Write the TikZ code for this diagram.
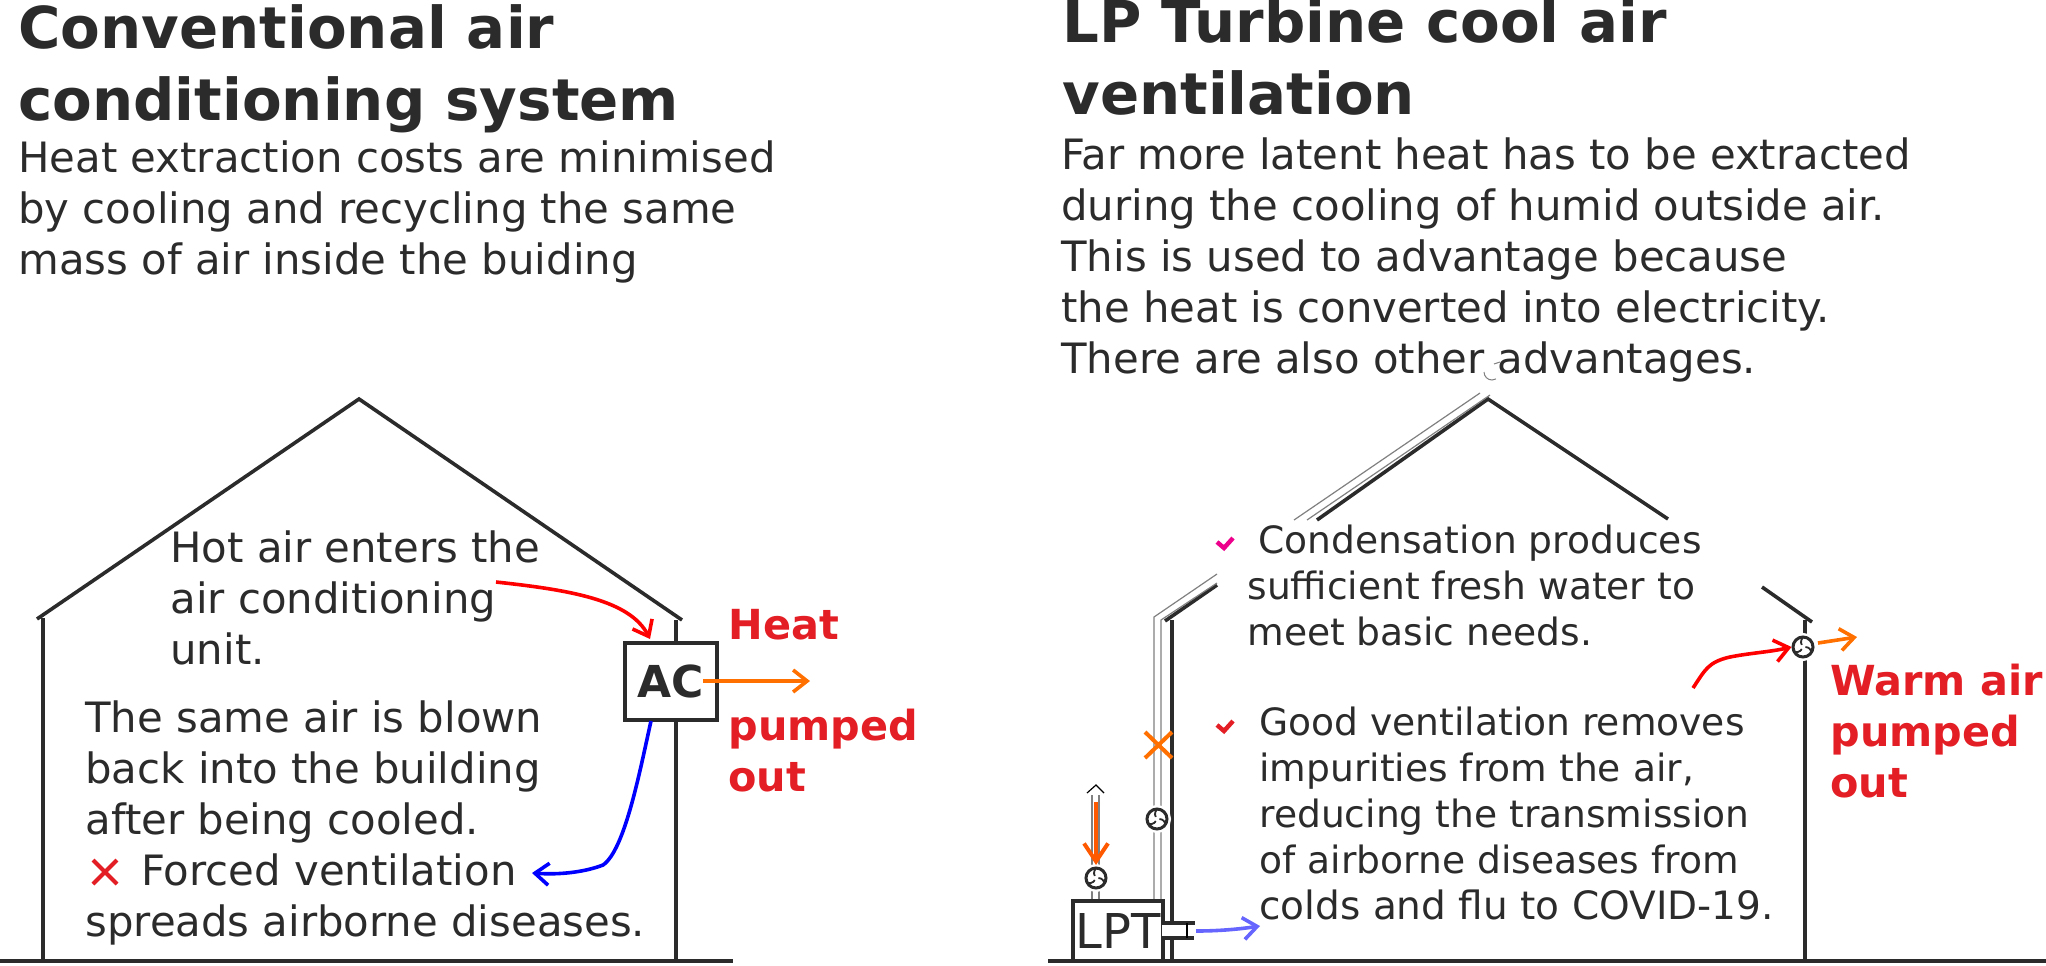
\documentclass[tikz,border=0pt]{standalone}
\usepackage{fontspec}
\setmainfont{DejaVu Sans}
\usepackage{xcolor}
\usetikzlibrary{arrows.meta,positioning,calc}
\definecolor{inkgrey}{HTML}{2B2B2B}
\definecolor{labelred}{HTML}{E31E24}
\definecolor{hotorange}{HTML}{FF7000}

\begin{document}
\begin{tikzpicture}[
        x=0.5pt, y=-0.5pt,
        heading/.style={anchor=base west, align=left, inner sep=0pt, text=inkgrey, font=\fontsize{28.9}{36}\selectfont\bfseries},
        bodytext/.style={anchor=base west, align=left, inner sep=0pt, text=inkgrey, font=\fontsize{20.9}{25.5}\selectfont},
        housetext/.style={bodytext, font=\fontsize{18.8}{22.9}\selectfont},
        redlabel/.style={anchor=base west, align=left, inner sep=0pt, text=labelred, font=\fontsize{20.7}{25.5}\selectfont\bfseries},
        wall/.style={draw=inkgrey, line width=1.8pt},
        pipe/.style={draw=gray, line width=0.6pt},
        unitbox/.style={draw=inkgrey, line width=2pt, fill=white, inner sep=0pt, text=inkgrey},
        flow/.style={-{Straight Barb[length=7pt,width=11pt,line width=1.8pt]}, line width=1.8pt},
        crossmark/.style={line width=2pt},
        tickmark/.style={line width=2.2pt},
        fan/.style={circle, draw=inkgrey, line width=1.5pt, fill=white, minimum size=10pt, inner sep=0pt,
            preaction={draw=white, line width=4pt},
            path picture={
                \foreach \turn in {0,120,240}
                    \draw[inkgrey, line width=0.9pt] ($(path picture bounding box.center)+(\turn:1.2pt)$)
                        arc[start angle=\turn+90, delta angle=-90, radius=3pt];
            }}
    ]
    \useasboundingbox (0,0) rectangle (2046,965);

    % Left title
    \node[heading] (lefttitle) at (18,120) {Conventional air\\conditioning system};
    \node[bodytext] (leftbody) at (18,274) {Heat extraction costs are minimised\\by cooling and recycling the same\\mass of air inside the buiding};

    % Right title
    \node[heading] (righttitle) at (1062,114) {LP Turbine cool air\\ventilation};
    \node[bodytext] (rightbody) at (1061,373) {Far more latent heat has to be extracted\\during the cooling of humid outside air.\\This is used to advantage because\\the heat is converted into electricity.\\There are also other advantages.};

    % Left house
    \draw[wall] (0,961) -- (733,961);
    \draw[wall] (43,961) -- (43,618);
    \draw[wall] (37,619) -- (359,399) -- (682,620);
    \draw[wall] (676,620) -- (676,961);

    % AC unit
    \node[unitbox, minimum width=46pt, minimum height=38.5pt, font=\fontsize{22}{25}\selectfont\bfseries] (ac) at (671,681) {AC};
    \node[bodytext] (hottext) at (170,664) {Hot air enters the\\air conditioning\\unit.};
    \node[bodytext] (coldtext) at (85,936) {The same air is blown\\back into the building\\after being cooled.\\\hspace{28pt}Forced ventilation\\spreads airborne diseases.};
    \node[redlabel] (heatlabel) at (728,639) {Heat};
    \node[redlabel] (pumpedlabel) at (728,791) {pumped\\out};
    \coordinate (hotstart) at (496,582);
    \coordinate (coldend) at (532,873);
    \coordinate (heatstart) at (703,681);
    \coordinate (heatend) at (810,681);
    \draw[flow, red] (hotstart) .. controls (570,590) and (630,600) .. (650,639);
    \draw[flow, blue] (651,721) .. controls (640,770) and (625,850) .. (603,865) .. controls (585,872) and (560,875) .. (coldend);
    \draw[flow, hotorange] (heatstart) -- (heatend);
    \draw[crossmark, labelred] (93,860) -- (117,884) (117,860) -- (93,884);

    % Right house
    \draw[wall] (1048,961) -- (2046,961);
    \draw[wall] (1172,961) -- (1172,620);
    \draw[wall] (1165,621) -- (1217,585);
    \draw[wall] (1317,520) -- (1488,399) -- (1668,519);
    \draw[wall] (1762,587) -- (1812,622);
    \draw[wall] (1805,620) -- (1805,961);

    % Ducts beside the wall
    \draw[pipe] (1154,900) -- (1154,617) -- (1217,574);
    \draw[pipe] (1161,900) -- (1161,620) -- (1217,583);
    \draw[pipe] (1294,520) -- (1480,393);
    \draw[pipe] (1307,520) -- (1490,395);
    \draw[pipe] (1092,900) -- (1092,795);
    \draw[pipe] (1099,900) -- (1099,795);
    \draw[pipe, black] (1087,793) -- (1096,785) -- (1104,793);

    % Turbine
    \node[unitbox, minimum width=45pt, minimum height=30pt, font=\fontsize{24}{26}\selectfont] (lpt) at (1118,931) {\raisebox{-1.5pt}{LPT}};
    \fill[white] (1162,925) rectangle (1186,936);
    \draw[wall] (1162,923) -- (1195,923);
    \draw[wall] (1162,938) -- (1194,938);
    \draw[pipe, black] (1187,923) -- (1187,938);

    % Fans
    \node[fan] (fanlow) at (1096,878) {};
    \node[fan] (fanduct) at (1157,819) {};
    \node[fan] (fanroof) at (1803,647) {};
    \draw[gray, line width=0.5pt] (1484,372) arc[start angle=180, end angle=60, radius=8] (1494,364) -- (1500,362);

    % Text inside
    \node[housetext] (condense) at (1247,645) {\hspace{5.5pt}Condensation produces\\sufficient fresh water to\\meet basic needs.};
    \node[housetext] (impure) at (1259,919) {Good ventilation removes\\impurities from the air,\\reducing the transmission\\of airborne diseases from\\\fontsize{19.5}{22.9}\selectfont colds and flu to COVID-19.};
    \node[redlabel] (warmlabel) at (1830,797) {Warm air\\pumped\\out};

    % Marks and flows
    \draw[tickmark, magenta] (1217,542) -- (1224,548) -- (1233,538);
    \draw[tickmark, labelred] (1217,725) -- (1224,731) -- (1233,721);
    \draw[crossmark, hotorange] (1145,732) -- (1172,758) (1172,732) -- (1145,758);
    \draw[-{Straight Barb[length=9pt,width=12pt,line width=2pt]}, line width=2pt, orange!70!red] (1096,802) -- (1096,865);
    \draw[flow, blue!60!white] (1196,931) .. controls (1220,931) and (1240,929) .. (1260,926);
    \draw[flow, red] (1693,688) .. controls (1705,670) and (1708,662) .. (1730,657) .. controls (1750,653) and (1770,652) .. (fanroof.west);
    \draw[flow, hotorange] (1818,643) -- (1857,637);
\end{tikzpicture}
\end{document}
